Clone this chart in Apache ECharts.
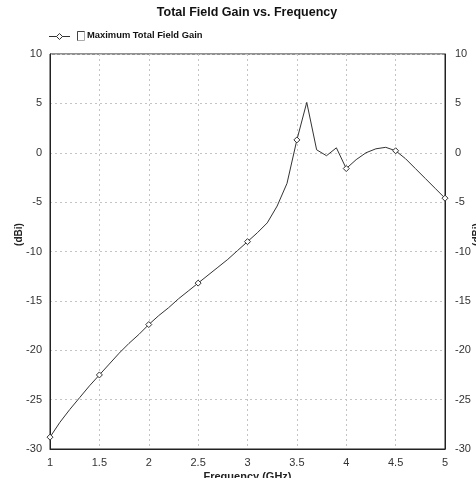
<!DOCTYPE html>
<html>
<head>
<meta charset="utf-8">
<script src="https://cdn.jsdelivr.net/npm/echarts@6/dist/echarts.min.js"></script>
<style>
  html, body { margin: 0; padding: 0; background: #fff; }
  #chart { width: 476px; height: 478px; }
</style>
</head>
<body>
<div id="chart"></div>
<script>
// Frequency sweep (GHz) and maximum total field gain (dBi)
const frequencies = [
  1.0, 1.1, 1.2, 1.3, 1.4, 1.5, 1.6, 1.7, 1.8, 1.9,
  2.0, 2.1, 2.2, 2.3, 2.4, 2.5, 2.6, 2.7, 2.8, 2.9,
  3.0, 3.1, 3.2, 3.3, 3.4, 3.5, 3.6, 3.7, 3.8, 3.9,
  4.0, 4.1, 4.2, 4.3, 4.4, 4.5, 4.6, 4.7, 4.8, 4.9,
  5.0
];
const gainDbi = [
  -28.8, -27.3, -26.0, -24.8, -23.6, -22.5, -21.4, -20.3, -19.3, -18.4,
  -17.4, -16.5, -15.7, -14.8, -14.0, -13.2, -12.4, -11.6, -10.8, -9.9,
  -9.0, -8.1, -7.1, -5.4, -3.1, 1.3, 5.1, 0.3, -0.3, 0.5,
  -1.6, -0.7, 0.0, 0.4, 0.55, 0.2, -0.6, -1.6, -2.6, -3.6,
  -4.6
];
// Markers are drawn on every 0.5 GHz step
const markerStep = 5;

const seriesName = 'Maximum Total Field Gain';
const titleText = 'Total Field Gain vs. Frequency';
const xName = 'Frequency (GHz)';
const yName = '(dBi)';

const points = frequencies.map((f, i) => [f, gainDbi[i]]);

const chart = echarts.init(document.getElementById('chart'), null, { renderer: 'canvas' });

const FONT = 'Arial, "Liberation Sans", sans-serif';
const tickFont = { fontFamily: FONT, fontSize: 11, color: '#333' };
const gridLine = { show: true, lineStyle: { color: '#c4c4c4', type: [2, 3], width: 1 } };
// y-axis names sit a little above the middle of the axis
const yNameStyle = { fontFamily: FONT, fontSize: 10, fontWeight: 'bold', color: '#222', padding: [0, 0, 0, 34] };

chart.setOption({
  animation: false,
  backgroundColor: '#fff',
  graphic: [
    // title, centred over the plot area
    {
      type: 'text', x: 247, y: 6,
      style: { text: titleText, font: 'bold 12.5px ' + FONT, fill: '#111', textAlign: 'center' }
    },
    // legend: line sample with diamond, an unticked box, then the series name
    { type: 'line', shape: { x1: 49, y1: 36.5, x2: 70, y2: 36.5 }, style: { stroke: '#333', lineWidth: 1 } },
    { type: 'polygon', shape: { points: [[59.5, 33.5], [62.5, 36.5], [59.5, 39.5], [56.5, 36.5]] }, style: { fill: '#fff', stroke: '#333', lineWidth: 1 } },
    { type: 'rect', shape: { x: 77.5, y: 31.5, width: 7, height: 9 }, style: { fill: '#fff', stroke: '#aaa', lineWidth: 1 } },
    { type: 'line', shape: { x1: 77.5, y1: 31.5, x2: 84.5, y2: 31.5 }, style: { stroke: '#444', lineWidth: 1 } },
    { type: 'line', shape: { x1: 77.5, y1: 31.5, x2: 77.5, y2: 40.5 }, style: { stroke: '#444', lineWidth: 1 } },
    {
      type: 'text', x: 87, y: 31,
      style: { text: seriesName, font: 'bold 9.4px ' + FONT, fill: '#111' }
    }
  ],
  grid: { left: 50, right: 31, top: 54, bottom: 29, outerBoundsMode: 'none', containLabel: false, show: true, borderColor: '#222', borderWidth: 1 },
  xAxis: {
    type: 'value',
    min: 1,
    max: 5,
    interval: 0.5,
    name: xName,
    nameLocation: 'middle',
    nameGap: 22,
    nameMoveOverlap: false,
    nameTextStyle: { fontFamily: FONT, fontSize: 11, fontWeight: 'bold', color: '#222' },
    axisLine: { show: true, onZero: false, lineStyle: { color: '#222' } },
    axisTick: { show: false },
    axisLabel: Object.assign({ margin: 8 }, tickFont),
    splitLine: gridLine
  },
  yAxis: [
    {
      type: 'value',
      min: -30,
      max: 10,
      interval: 5,
      name: yName,
      nameLocation: 'middle',
      nameGap: 26,
      nameMoveOverlap: false,
      nameTextStyle: yNameStyle,
      axisLine: { show: true, onZero: false, lineStyle: { color: '#222' } },
      axisTick: { show: false },
      axisLabel: Object.assign({ margin: 8 }, tickFont),
      splitLine: gridLine
    },
    {
      type: 'value',
      position: 'right',
      min: -30,
      max: 10,
      interval: 5,
      name: yName,
      nameLocation: 'middle',
      nameGap: 27,
      nameRotate: 90,
      nameMoveOverlap: false,
      nameTextStyle: yNameStyle,
      axisLine: { show: true, onZero: false, lineStyle: { color: '#222' } },
      axisTick: { show: false },
      axisLabel: Object.assign({ margin: 10 }, tickFont),
      splitLine: { show: false }
    }
  ],
  series: [
    {
      name: seriesName,
      type: 'line',
      data: points,
      smooth: false,
      showAllSymbol: true,
      symbol: (val, params) => (params.dataIndex % markerStep === 0 ? 'diamond' : 'none'),
      symbolSize: 6,
      itemStyle: { color: '#fff', borderColor: '#333', borderWidth: 1 },
      lineStyle: { color: '#333', width: 1 },
      emphasis: { disabled: true }
    }
  ]
});
</script>
</body>
</html>
